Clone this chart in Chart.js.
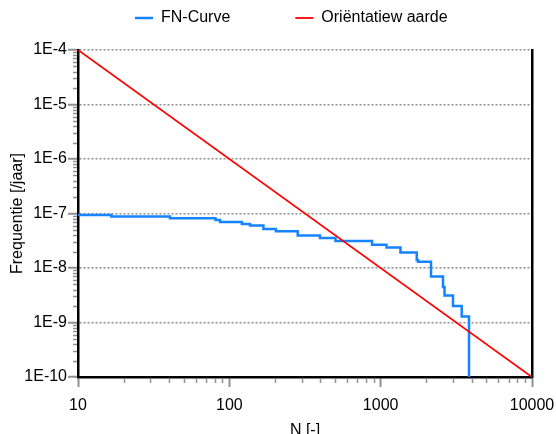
<!DOCTYPE html>
<html><head><meta charset="utf-8">
<script src="https://cdn.jsdelivr.net/npm/chart.js@4.4.0/dist/chart.umd.min.js"></script>
<style>html,body{margin:0;padding:0;background:#fff;} canvas{display:block;}</style>
</head><body>
<canvas id="c" width="556" height="434"></canvas>
<script>
// ---- data ----
const seriesNames = ['FN-Curve', 'Oriëntatiew aarde'];
const fnN    = [10, 16.6, 40.5, 81, 86.8, 121, 137, 168, 203, 283, 397, 503, 877, 1093, 1352, 1731, 1765, 2151, 2582, 2642, 3006, 3432, 3835];
const fnFreq = [9.4e-8, 8.8e-8, 8.2e-8, 7.6e-8, 7.0e-8, 6.4e-8, 6.0e-8, 5.2e-8, 4.7e-8, 3.95e-8, 3.55e-8, 3.13e-8, 2.68e-8, 2.38e-8, 1.93e-8, 1.4e-8, 1.3e-8, 7.0e-9, 4.5e-9, 3.13e-9, 2.0e-9, 1.29e-9, 1e-10];
const refN    = [10, 10000];
const refFreq = [1e-4, 1e-10];
const xTickValues = [10, 100, 1000, 10000];
const xTickLabels = ['10', '100', '1000', '10000'];
const yTickValues = [1e-10, 1e-9, 1e-8, 1e-7, 1e-6, 1e-5, 1e-4];
const yTickLabels = ['1E-10', '1E-9', '1E-8', '1E-7', '1E-6', '1E-5', '1E-4'];
const xTitle = 'N [-]';
const yTitle = 'Frequentie [/jaar]';

// ---- styling ----
Chart.defaults.font.family = "'Liberation Sans', Arial, sans-serif";
Chart.defaults.font.size = 16;
Chart.defaults.color = '#000';

const GRID = '#909090';

function labelFor(values, labels, v) {
  let best = 0, bd = Infinity;
  values.forEach((t, i) => { const d = Math.abs(Math.log10(t) - Math.log10(v)); if (d < bd) { bd = d; best = i; } });
  return labels[best];
}

const legendPlace = {
  id: 'legendPlace',
  beforeInit(chart) {
    const lg = chart.legend;
    const fit = lg.fit;
    lg.fit = function () { fit.call(this); this.height = 50; };
  },
  afterLayout(chart) {
    const lg = chart.legend;
    const pad = lg.options.labels.padding;
    lg.top = 10 - pad;
    lg.left = 135 - pad;
    lg.right = 556;
  }
};

const minorTicks = {
  id: 'minorTicks',
  afterDraw(chart) {
    const {ctx, chartArea, scales} = chart;
    ctx.save();
    ctx.strokeStyle = GRID;
    ctx.lineWidth = 1.5;
    ctx.beginPath();
    for (let e = -10; e < -4; e++) {
      for (let m = 2; m <= 9; m++) {
        const py = Math.round(scales.y.getPixelForValue(m * Math.pow(10, e))) + 0.5;
        ctx.moveTo(chartArea.left - 5, py); ctx.lineTo(chartArea.left - 1, py);
      }
    }
    for (let e = 1; e < 4; e++) {
      for (let m = 2; m <= 9; m++) {
        const px = Math.round(scales.x.getPixelForValue(m * Math.pow(10, e))) + 0.5;
        ctx.moveTo(px, chartArea.bottom + 1); ctx.lineTo(px, chartArea.bottom + 6);
      }
    }
    ctx.stroke();
    ctx.restore();
  }
};

new Chart(document.getElementById('c'), {
  type: 'line',
  data: {
    datasets: [
      {
        label: seriesNames[0],
        data: fnN.map((n, i) => ({x: n, y: fnFreq[i]})),
        borderColor: 'rgb(20,132,255)',
        backgroundColor: 'rgb(20,132,255)',
        borderWidth: 2.5,
        pointRadius: 0,
        stepped: 'before',
        fill: false,
        order: 1
      },
      {
        label: seriesNames[1],
        data: refN.map((n, i) => ({x: n, y: refFreq[i]})),
        borderColor: '#ff0000',
        backgroundColor: '#ff0000',
        borderWidth: 1.8,
        pointRadius: 0,
        fill: false,
        order: 0
      }
    ]
  },
  options: {
    responsive: false,
    animation: false,
    layout: {padding: {top: 0, right: 24, bottom: -10, left: 4}},
    plugins: {
      tooltip: {enabled: false},
      legend: {
        display: true,
        position: 'top',
        align: 'start',
        labels: {
          usePointStyle: true,
          pointStyle: 'line',
          pointStyleWidth: 18,
          padding: 65,
          color: '#000',
          font: {size: 16},
          sort: (a, b) => a.datasetIndex - b.datasetIndex
        }
      }
    },
    scales: {
      x: {
        type: 'logarithmic',
        position: 'bottom',
        min: 10, max: 10000,
        afterBuildTicks: s => { s.ticks = xTickValues.map(v => ({value: v, major: true})); },
        afterFit: s => { s.height = 67; s.paddingRight = 0; s.paddingLeft = 0; },
        ticks: {
          autoSkip: false, maxRotation: 0, padding: 9, color: '#000', font: {size: 16},
          callback: v => labelFor(xTickValues, xTickLabels, v)
        },
        grid: {drawOnChartArea: false, drawTicks: true, tickLength: 10, tickWidth: 2, tickColor: GRID, color: GRID},
        border: {display: true, color: '#000', width: 2.5},
        title: {display: true, text: xTitle, color: '#000', font: {size: 16}, padding: {top: 4, bottom: 4}}
      },
      y: {
        type: 'logarithmic',
        position: 'left',
        min: 1e-10, max: 1e-4,
        afterBuildTicks: s => { s.ticks = yTickValues.map(v => ({value: v, major: true})); },
        afterFit: s => { s.width = 74; },
        ticks: {
          autoSkip: false, padding: 1, color: '#000', font: {size: 16},
          callback: v => labelFor(yTickValues, yTickLabels, v)
        },
        grid: {drawOnChartArea: true, drawTicks: true, tickLength: 10, tickWidth: 2, tickColor: GRID, color: GRID, lineWidth: 1.5},
        border: {display: true, color: '#000', width: 2.5, dash: [2, 2]},
        title: {display: true, text: yTitle, color: '#000', font: {size: 16}, padding: {top: 4, bottom: 4}}
      },
      y2: {
        type: 'linear',
        position: 'right',
        display: true,
        afterFit: s => { s.width = 0; },
        ticks: {display: false},
        grid: {drawOnChartArea: false, drawTicks: false},
        border: {display: true, color: '#000', width: 2.5}
      }
    }
  },
  plugins: [legendPlace, minorTicks]
});
</script>
</body></html>
